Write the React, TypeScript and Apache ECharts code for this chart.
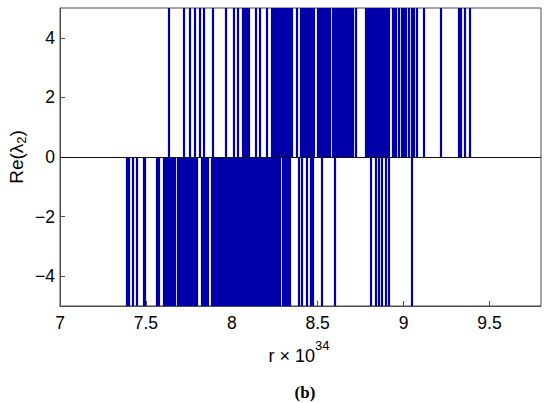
import React, { useEffect, useRef } from "react";
import * as echarts from "echarts";

// r values (×10^34) where Re(λ2) jumps down to the lower clip (−5)
const downSpikes = [
  7.390, 7.402, 7.422, 7.446, 7.487, 7.495, 7.562, 7.577,
  7.606, 7.614, 7.622, 7.630, 7.638, 7.646, 7.654, 7.662, 7.670,
  7.688, 7.696, 7.704, 7.712, 7.720, 7.728, 7.736, 7.744, 7.752, 7.760, 7.768, 7.776, 7.787,
  7.798,
  7.828, 7.836, 7.845, 7.853, 7.862,
  7.886, 7.894, 7.902, 7.910, 7.918, 7.926, 7.934, 7.942, 7.950, 7.958, 7.966, 7.974, 7.982,
  7.990, 7.998, 8.006, 8.014, 8.022, 8.030, 8.038, 8.046, 8.054, 8.062, 8.070, 8.078, 8.086,
  8.094, 8.107,
  8.119, 8.127, 8.135, 8.143, 8.151, 8.159, 8.167, 8.175, 8.183, 8.191, 8.199, 8.207, 8.215,
  8.223, 8.231, 8.239, 8.247, 8.255, 8.263, 8.271, 8.282,
  8.294, 8.302, 8.312, 8.323, 8.335,
  8.387, 8.407, 8.437, 8.457, 8.474, 8.521, 8.600,
  8.807, 8.836, 8.853, 8.871, 8.894, 8.911, 9.050,
];

// r values (×10^34) where Re(λ2) jumps up to the upper clip (+5)
const upSpikes = [
  7.631, 7.719, 7.758, 7.787, 7.812, 7.836, 7.890, 7.962, 8.010, 8.033,
  8.061, 8.070, 8.079, 8.088, 8.096,
  8.142, 8.161, 8.205, 8.230, 8.241,
  8.253, 8.261, 8.269, 8.277, 8.285, 8.293, 8.301, 8.309, 8.317, 8.323,
  8.335, 8.350,
  8.381, 8.399,
  8.410, 8.418, 8.426, 8.434, 8.442, 8.450, 8.458, 8.469, 8.476,
  8.503, 8.511, 8.519, 8.527, 8.535, 8.543, 8.551, 8.559, 8.567, 8.573,
  8.585, 8.593, 8.601, 8.609, 8.617, 8.625, 8.633, 8.641, 8.649, 8.657, 8.665, 8.672, 8.678,
  8.690, 8.705, 8.719,
  8.777,
  8.789, 8.797, 8.805, 8.813, 8.821, 8.829, 8.837, 8.845, 8.853, 8.861, 8.869, 8.877, 8.885,
  8.893, 8.901, 8.911,
  8.935, 8.945, 8.955, 8.972, 8.990, 9.000, 9.010,
  9.028, 9.045, 9.057, 9.079, 9.115, 9.214, 9.319, 9.335, 9.354, 9.383,
];

const xTicks = [7, 7.5, 8, 8.5, 9, 9.5];
const yTicks = [-4, -2, 0, 2, 4];
const X_MIN = 7;
const X_MAX = 9.8;
const Y_MIN = -5;
const Y_MAX = 5;

const FONT = "'Liberation Sans', Arial, sans-serif";

export default function App() {
  const ref = useRef<HTMLDivElement>(null);
  useEffect(() => {
    if (!ref.current) return;
    const chart = echarts.init(ref.current, null, { renderer: "svg" });
    const spikeLines = [
      ...downSpikes.map((r) => ({ coords: [[r, 0], [r, Y_MIN]] })),
      ...upSpikes.map((r) => ({ coords: [[r, 0], [r, Y_MAX]] })),
    ];
    const axisColor = "#4d4d4d";
    chart.setOption({
      animation: false,
      backgroundColor: "#fff",
      grid: {
        left: 60,
        right: 9,
        top: 8,
        bottom: 97,
        show: true,
        borderColor: axisColor,
        borderWidth: 1,
        backgroundColor: "transparent",
      },
      xAxis: {
        type: "value",
        min: X_MIN,
        max: X_MAX,
        interval: 0.5,
        axisLine: { show: true, onZero: false, lineStyle: { color: axisColor, width: 1 } },
        axisTick: {
          show: true,
          inside: true,
          length: 5,
          customValues: xTicks,
          lineStyle: { color: axisColor },
        },
        axisLabel: {
          customValues: xTicks,
          margin: 8,
          color: "#000",
          fontSize: 17.5,
          fontFamily: FONT,
          formatter: (v: number) => String(v),
        },
        splitLine: { show: false },
      },
      yAxis: {
        type: "value",
        min: Y_MIN,
        max: Y_MAX,
        axisLine: { show: true, onZero: false, lineStyle: { color: axisColor, width: 1 } },
        axisTick: {
          show: true,
          inside: true,
          length: 5,
          customValues: yTicks,
          lineStyle: { color: axisColor },
        },
        axisLabel: {
          customValues: yTicks,
          margin: 5,
          color: "#000",
          fontSize: 17.5,
          fontFamily: FONT,
          formatter: (v: number) => String(v).replace("-", "\u2212"),
        },
        splitLine: { show: false },
      },
      series: [
        {
          type: "lines",
          coordinateSystem: "cartesian2d",
          silent: true,
          z: 2,
          lineStyle: { color: "#0000aa", width: 2.2, opacity: 1 },
          data: spikeLines,
        },
        {
          type: "lines",
          coordinateSystem: "cartesian2d",
          silent: true,
          z: 3,
          lineStyle: { color: "#111", width: 1, opacity: 1 },
          data: [{ coords: [[X_MIN, 0], [X_MAX, 0]] }],
        },
      ],
      graphic: [
        {
          type: "text",
          x: 16,
          y: 157,
          rotation: Math.PI / 2,
          style: {
            text: "{a|Re(λ}{s|2}{a|)}",
            align: "center",
            verticalAlign: "middle",
            rich: {
              a: { fontSize: 19, fontFamily: FONT, fill: "#000", lineHeight: 24, verticalAlign: "middle" },
              s: { fontSize: 13, fontFamily: FONT, fill: "#000", lineHeight: 24, verticalAlign: "bottom" },
            },
          },
        },
        {
          type: "text",
          x: 299,
          y: 352,
          style: {
            text: "{a|r × 10}{p|34}",
            align: "center",
            verticalAlign: "middle",
            rich: {
              a: { fontSize: 18, fontFamily: FONT, fill: "#000", lineHeight: 26, verticalAlign: "bottom" },
              p: { fontSize: 13, fontFamily: FONT, fill: "#000", lineHeight: 26, verticalAlign: "top" },
            },
          },
        },
        {
          type: "text",
          x: 305,
          y: 392,
          style: {
            text: "(b)",
            align: "center",
            verticalAlign: "middle",
            fontSize: 17,
            fontWeight: "bold",
            fontFamily: "'Liberation Serif', 'DejaVu Serif', serif",
            fill: "#000",
          },
        },
      ],
    });
    return () => chart.dispose();
  }, []);
  return <div ref={ref} style={{ width: 550, height: 403, position: "absolute", left: 0, top: 0 }} />;
}
